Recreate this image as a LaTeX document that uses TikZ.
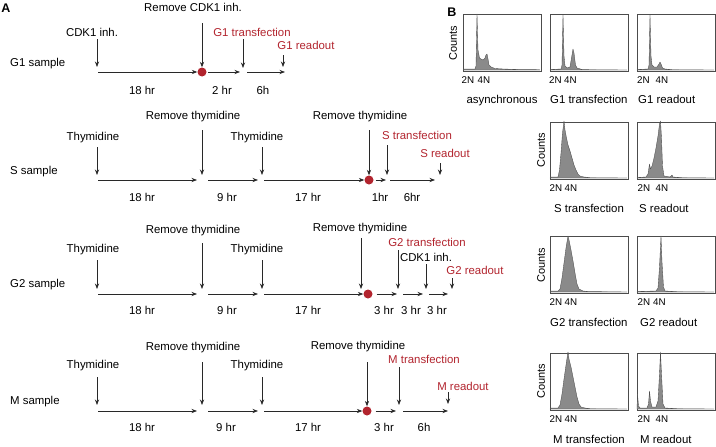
\documentclass[tikz,border=0pt]{standalone}
\usepackage{fontspec}
\setmainfont{Liberation Sans}
\usetikzlibrary{arrows.meta}
\definecolor{myred}{RGB}{178,36,46}
\definecolor{linec}{RGB}{40,40,40}
\newcommand\fsA{\fontsize{11.4}{13}\selectfont}
\newcommand\fsB{\fontsize{9.8}{11}\selectfont}
\newcommand\histo[3]{%
  \draw[hbox] (#1,#2) rectangle ++(78,-57);
  \begin{scope}[shift={(#1,#2-1)}, y=1pt]
    \filldraw[hfill] plot coordinates {#3} -- cycle;
  \end{scope}}
\tikzset{
  lbl/.style={font=\fsA, inner sep=0pt, text height=8pt, text depth=0pt},
  rlbl/.style={lbl, text=myred},
  lblw/.style={lbl, anchor=west},
  tline/.style={draw=linec, line width=0.65pt, -{Stealth[length=5.5pt,width=4.2pt]}},
  varr/.style={draw=linec, line width=0.65pt, -{Stealth[length=5.5pt,width=4.2pt]}},
  rdot/.style={circle, fill=myred, minimum size=9pt, inner sep=0pt},
  hbox/.style={draw=black!70, line width=0.5pt},
  hfill/.style={fill=black!46, draw=black!70, line width=0.35pt, line join=round},
  nlbl/.style={font=\fsB, inner sep=0pt, text height=7pt, text depth=0pt},
  captxt/.style={lbl, anchor=west},
  cnt/.style={font=\fontsize{11}{12}\selectfont, inner sep=0pt, rotate=90},
  panel/.style={font=\bfseries\fontsize{12.5}{14}\selectfont, inner sep=0pt, text height=9pt, text depth=0pt}
}
\begin{document}
\begin{tikzpicture}[x=1pt,y=-1pt]
\useasboundingbox (0,0) rectangle (716,447);

% ---------------- Panel A ----------------
\node[panel] (pA) at (6,8) {A};

% G1 row
\node[lblw] (g1name) at (10,62) {G1 sample};
\coordinate (g1a) at (98,72);
\node[rdot] (g1dot) at (202,72) {};
\coordinate (g1b) at (240,72);
\coordinate (g1c) at (247,72);
\coordinate (g1d) at (285,72);
\draw[tline] (g1a) -- (g1dot.west);
\draw[tline, shorten <=1.5pt] (g1dot.east) -- (g1b);
\draw[tline] (g1c) -- (g1d);
\node[lbl] (g1l1) at (92,32) {CDK1 inh.};
\coordinate (g1t1a) at (97,39); \coordinate (g1t1b) at (97,67);
\draw[varr] (g1t1a) -- (g1t1b);
\node[lbl] (g1l2) at (193,8) {Remove CDK1 inh.};
\coordinate (g1t2a) at (202,23);
\draw[varr] (g1t2a) -- (g1dot.north);
\node[rlbl] (g1l3) at (252,32) {G1 transfection};
\coordinate (g1t3a) at (243,39); \coordinate (g1t3b) at (243,68);
\draw[varr] (g1t3a) -- (g1t3b);
\node[rlbl] (g1l4) at (306,45) {G1 readout};
\coordinate (g1t4a) at (283,55); \coordinate (g1t4b) at (283,67);
\draw[varr] (g1t4a) -- (g1t4b);
\node[lbl] (g1h1) at (142,90) {18 hr};
\node[lbl] (g1h2) at (222,90) {2 hr};
\node[lbl] (g1h3) at (263,90) {6h};

% S row
\node[lblw] (sname) at (10,170) {S sample};
\coordinate (s1) at (98,180); \coordinate (s2) at (197,180);
\coordinate (s3) at (208,180); \coordinate (s4) at (258,180);
\coordinate (s5) at (264,180);
\node[rdot] (sdot) at (369,180) {};
\coordinate (s6) at (386,180);
\coordinate (s7) at (390,180); \coordinate (s8) at (435,180);
\draw[tline] (s1) -- (s2);
\draw[tline] (s3) -- (s4);
\draw[tline] (s5) -- (sdot.west);
\draw[tline, shorten <=2pt] (sdot.east) -- (s6);
\draw[tline] (s7) -- (s8);
\node[lbl] (sl1) at (93,136) {Thymidine};
\coordinate (st1a) at (97,147); \coordinate (st1b) at (97,175);
\draw[varr] (st1a) -- (st1b);
\node[lbl] (sl2) at (193,115) {Remove thymidine};
\coordinate (st2a) at (202,130); \coordinate (st2b) at (202,175);
\draw[varr] (st2a) -- (st2b);
\node[lbl] (sl3) at (257,136) {Thymidine};
\coordinate (st3a) at (262,147); \coordinate (st3b) at (262,175);
\draw[varr] (st3a) -- (st3b);
\node[lbl] (sl4) at (360,115) {Remove thymidine};
\coordinate (st4a) at (369,130);
\draw[varr] (st4a) -- (sdot.north);
\node[rlbl] (sl5) at (417,135) {S transfection};
\coordinate (st5a) at (387,145); \coordinate (st5b) at (387,175);
\draw[varr] (st5a) -- (st5b);
\node[rlbl] (sl6) at (445,153) {S readout};
\coordinate (st6a) at (440,163); \coordinate (st6b) at (440,175);
\draw[varr] (st6a) -- (st6b);
\node[lbl] (sh1) at (142,197) {18 hr};
\node[lbl] (sh2) at (227,197) {9 hr};
\node[lbl] (sh3) at (308,197) {17 hr};
\node[lbl] (sh4) at (380,197) {1hr};
\node[lbl] (sh5) at (412,197) {6hr};

% G2 row
\node[lblw] (g2name) at (10,283) {G2 sample};
\coordinate (g2a) at (98,294); \coordinate (g2b) at (197,294);
\coordinate (g2c) at (208,294); \coordinate (g2d) at (258,294);
\coordinate (g2e) at (264,294);
\node[rdot] (g2dot) at (368,294) {};
\coordinate (g2f) at (397,294);
\coordinate (g2g) at (403,294); \coordinate (g2h) at (423,294);
\coordinate (g2i) at (429,294); \coordinate (g2j) at (448,294);
\draw[tline] (g2a) -- (g2b);
\draw[tline] (g2c) -- (g2d);
\draw[tline] (g2e) -- (g2dot.west);
\draw[tline, shorten <=4pt] (g2dot.east) -- (g2f);
\draw[tline] (g2g) -- (g2h);
\draw[tline] (g2i) -- (g2j);
\node[lbl] (g2l1) at (93,248) {Thymidine};
\coordinate (g2t1a) at (97,260); \coordinate (g2t1b) at (97,289);
\draw[varr] (g2t1a) -- (g2t1b);
\node[lbl] (g2l2) at (193,229) {Remove thymidine};
\coordinate (g2t2a) at (202,243); \coordinate (g2t2b) at (202,289);
\draw[varr] (g2t2a) -- (g2t2b);
\node[lbl] (g2l3) at (257,248) {Thymidine};
\coordinate (g2t3a) at (262,260); \coordinate (g2t3b) at (262,289);
\draw[varr] (g2t3a) -- (g2t3b);
\node[lbl] (g2l4) at (360,227) {Remove thymidine};
\coordinate (g2t4a) at (361,238); \coordinate (g2t4b) at (361,289);
\draw[varr] (g2t4a) -- (g2t4b);
\node[rlbl] (g2l5) at (427,242) {G2 transfection};
\coordinate (g2t5a) at (398,250); \coordinate (g2t5b) at (398,289);
\draw[varr] (g2t5a) -- (g2t5b);
\node[lbl] (g2l6) at (426,257) {CDK1 inh.};
\coordinate (g2t6a) at (426,264); \coordinate (g2t6b) at (426,289);
\draw[varr] (g2t6a) -- (g2t6b);
\node[rlbl] (g2l7) at (475,270) {G2 readout};
\coordinate (g2t7a) at (452,278); \coordinate (g2t7b) at (452,289);
\draw[varr] (g2t7a) -- (g2t7b);
\node[lbl] (g2h1) at (142,310) {18 hr};
\node[lbl] (g2h2) at (227,310) {9 hr};
\node[lbl] (g2h3) at (308,310) {17 hr};
\node[lbl] (g2h4) at (384,310) {3 hr};
\node[lbl] (g2h5) at (411,310) {3 hr};
\node[lbl] (g2h6) at (437,310) {3 hr};

% M row
\node[lblw] (mname) at (10,400) {M sample};
\coordinate (m1) at (98,411); \coordinate (m2) at (197,411);
\coordinate (m3) at (208,411); \coordinate (m4) at (258,411);
\coordinate (m5) at (264,411);
\node[rdot] (mdot) at (367,411) {};
\coordinate (m6) at (396,411);
\coordinate (m7) at (403,411); \coordinate (m8) at (448,411);
\draw[tline] (m1) -- (m2);
\draw[tline] (m3) -- (m4);
\draw[tline] (m5) -- (mdot.west);
\draw[tline, shorten <=4pt] (mdot.east) -- (m6);
\draw[tline] (m7) -- (m8);
\node[lbl] (ml1) at (93,364) {Thymidine};
\coordinate (mt1a) at (97,377); \coordinate (mt1b) at (97,405);
\draw[varr] (mt1a) -- (mt1b);
\node[lbl] (ml2) at (193,346) {Remove thymidine};
\coordinate (mt2a) at (202,362); \coordinate (mt2b) at (202,405);
\draw[varr] (mt2a) -- (mt2b);
\node[lbl] (ml3) at (257,364) {Thymidine};
\coordinate (mt3a) at (262,377); \coordinate (mt3b) at (262,405);
\draw[varr] (mt3a) -- (mt3b);
\node[lbl] (ml4) at (358,345) {Remove thymidine};
\coordinate (mt4a) at (367,362);
\draw[varr] (mt4a) -- (mdot.north);
\node[rlbl] (ml5) at (424,359) {M transfection};
\coordinate (mt5a) at (399,367); \coordinate (mt5b) at (399,405);
\draw[varr] (mt5a) -- (mt5b);
\node[rlbl] (ml6) at (463,386) {M readout};
\coordinate (mt6a) at (448,392); \coordinate (mt6b) at (448,404);
\draw[varr] (mt6a) -- (mt6b);
\node[lbl] (mh1) at (142,427) {18 hr};
\node[lbl] (mh2) at (226,427) {9 hr};
\node[lbl] (mh3) at (308,427) {17 hr};
\node[lbl] (mh4) at (384,427) {3 hr};
\node[lbl] (mh5) at (424,427) {6h};

% ---------------- Panel B ----------------
\node[panel] (pB) at (452,12) {B};

% row 1
\histo{463}{71}{(0,0) (1,1) (12,1) (13,4) (14,56) (15,20) (16.5,12) (18,11) (20,10) (22,12) (23,15) (24,16) (25,11) (26,5) (28,3) (32,1.5) (40,1) (55,0.5) (76,0.3) (77,0)}
\histo{550}{71}{(0,0) (1,0.5) (11,1) (12,5) (13,55) (14,14) (15,4) (17,2) (20,3) (21.5,12) (23,21) (24,17) (25.5,5) (27,2) (32,0.5) (40,0.3) (77,0)}
\histo{637}{71}{(0,0) (1,0.5) (11,1) (12,5) (13,55) (14,14) (15,5) (17,3) (20,3) (22,6) (23,8) (24,6) (25.5,2) (28,1) (35,0.3) (77,0)}
\node[cnt] (c1) at (453,43) {Counts};
\node[nlbl] (r1a2) at (468,80) {2N}; \node[nlbl] (r1a4) at (484,80) {4N};
\node[nlbl] (r1b2) at (555.5,80) {2N};   \node[nlbl] (r1b4) at (570.5,80) {4N};
\node[nlbl] (r1c2) at (643.5,80) {2N}; \node[nlbl] (r1c4) at (662,80) {4N};
\node[lbl] (cap1) at (502,99) {asynchronous};
\node[captxt] (cap2) at (550,99) {G1 transfection};
\node[captxt] (cap3) at (638,99) {G1 readout};

% row 2
\histo{550}{179}{(0,0) (1,1) (8,1) (9.5,8) (11,25) (12.5,45) (14,57) (15,48) (16.5,40) (18,33) (20,27) (22,20) (24,13) (26,8) (28,4) (30,2) (34,1) (40,0.3) (77,0)}
\histo{637}{179}{(0,0) (1,0.5) (9,1) (11,4) (12.5,14) (13.5,9) (15,12) (17,20) (19,30) (21,42) (22.5,54) (23.5,57) (24.5,40) (25.5,12) (27,2) (33,1) (35,3) (36,1) (45,0.3) (77,0)}
\node[cnt] (c2) at (541,150) {Counts};
\node[nlbl] (r2b2) at (556,188) {2N};   \node[nlbl] (r2b4) at (571,188) {4N};
\node[nlbl] (r2c2) at (644,188) {2N};   \node[nlbl] (r2c4) at (662,188) {4N};
\node[captxt] (cap4) at (554,208) {S transfection};
\node[captxt] (cap5) at (639,208) {S readout};

% row 3
\histo{550}{293}{(0,0) (1,1) (8,1) (10,3) (12,14) (14,29) (16,44) (18,56) (19,52) (21,42) (23,31) (25,19) (27,8) (29,3) (33,1) (38,0.5) (77,0)}
\histo{637}{293}{(0,0) (1,0.5) (19,1) (21,4) (22.5,25) (24,56) (25,30) (26.5,5) (28,1) (40,0.3) (77,0)}
\node[cnt] (c3) at (541,265) {Counts};
\node[nlbl] (r3b2) at (556,302) {2N};   \node[nlbl] (r3b4) at (571,302) {4N};
\node[nlbl] (r3c2) at (644,302) {2N};   \node[nlbl] (r3c4) at (659.5,302) {4N};
\node[captxt] (cap6) at (550,322) {G2 transfection};
\node[captxt] (cap7) at (640,322) {G2 readout};

% row 4
\histo{550}{410}{(0,0) (1,1) (8,1) (10,4) (12,15) (14,30) (16,44) (18,57) (19,50) (21,42) (23,32) (25,22) (27,12) (29,5) (31,2) (35,1) (40,0.3) (77,0)}
\histo{637}{410}{(0,0) (0.5,15) (1.5,3) (3,1) (10,1) (11.5,5) (12.5,18) (13.5,8) (15,2) (19,2) (21,8) (22.5,35) (23.5,57) (24.5,35) (26,5) (28,1) (40,0.3) (77,0)}
\node[cnt] (c4) at (541,381) {Counts};
\node[nlbl] (r4b2) at (556,419) {2N};   \node[nlbl] (r4b4) at (571,419) {4N};
\node[nlbl] (r4c2) at (644,419) {2N};   \node[nlbl] (r4c4) at (662,419) {4N};
\node[captxt] (cap8) at (553,439) {M transfection};
\node[captxt] (cap9) at (640,439) {M readout};
\end{tikzpicture}
\end{document}
